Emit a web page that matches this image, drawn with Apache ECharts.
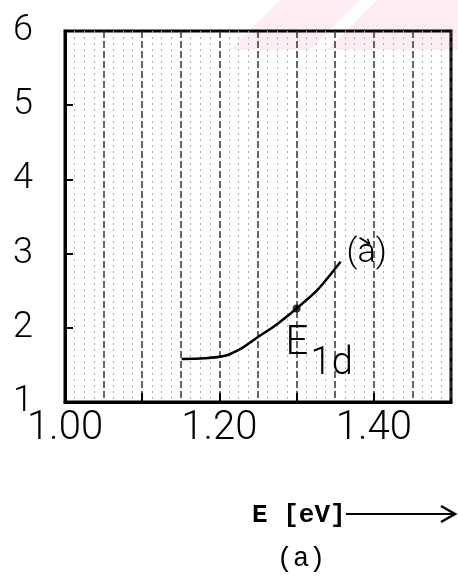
<!DOCTYPE html>
<html>
<head>
<meta charset="utf-8">
<script src="https://cdn.jsdelivr.net/npm/echarts@6/dist/echarts.min.js"></script>
<style>
html,body{margin:0;padding:0;background:#fff;}
#chart{width:458px;height:583px;}
</style>
</head>
<body>
<div id="chart"></div>
<script>
// Data
const energyEV = [1.151, 1.18, 1.206, 1.228, 1.249, 1.271, 1.30, 1.327, 1.357];
const curveA   = [1.58, 1.59, 1.62, 1.72, 1.87, 2.02, 2.26, 2.51, 2.89];
const markE1d  = [1.30, 2.26];
const xTickLabels = [1.00, 1.20, 1.40];
const xTickMarks  = [1.10, 1.20, 1.30, 1.40];
const yTickLabels = [1, 2, 3, 4, 5, 6];
const yTickMarks  = [2, 3, 4, 5];

const THIN = "Roboto,'Liberation Sans',sans-serif";

const chart = echarts.init(document.getElementById('chart'), null, {renderer: 'canvas'});
const option = {
  backgroundColor: '#fff',
  animation: false,
  grid: {left: 65, right: 7, top: 31, bottom: 181, show: true, borderColor: '#000', borderWidth: 3, backgroundColor: 'transparent'},
  xAxis: [
    {
      type: 'value', min: 1.00, max: 1.50, interval: 0.1,
      axisLine: {show: true, lineStyle: {color: '#000', width: 3}},
      axisTick: {show: true, inside: true, length: 9, customValues: xTickMarks, lineStyle: {color: '#000', width: 2}},
      axisLabel: {customValues: xTickLabels, formatter: v => v.toFixed(2), fontFamily: THIN, fontWeight: 300, fontSize: 40, color: '#000', margin: 7},
      splitLine: {show: false},
      z: 10
    },
    {
      // graph-paper rulings
      type: 'value', min: 1.00, max: 1.50, interval: 0.05, position: 'bottom',
      axisLine: {show: false}, axisTick: {show: false}, axisLabel: {show: false},
      splitLine: {show: true, lineStyle: {color: '#333', width: 1.5, type: [7, 3]}},
      minorTick: {show: false, splitNumber: 4},
      minorSplitLine: {show: true, lineStyle: {color: '#b0b0b0', width: 1, type: [2, 4]}}
    }
  ],
  yAxis: {
    type: 'value', min: 1, max: 6, interval: 1,
    axisLine: {show: true, lineStyle: {color: '#000', width: 3}},
    axisTick: {show: true, inside: true, length: 8, customValues: yTickMarks, lineStyle: {color: '#000', width: 2}},
    axisLabel: {customValues: yTickLabels, fontFamily: THIN, fontWeight: 300, fontSize: 36, color: '#000', margin: 32},
    splitLine: {show: false}
  },
  series: [
    {
      type: 'line', data: energyEV.map((x, i) => [x, curveA[i]]),
      smooth: 0.25, showSymbol: false, symbol: 'none',
      lineStyle: {color: '#000', width: 2.5}, z: 5
    },
    {
      type: 'scatter', data: [markE1d], symbolSize: 8,
      itemStyle: {color: '#000'}, z: 6
    }
  ]
};
chart.setOption(option);

const pE = chart.convertToPixel({gridIndex: 0}, markE1d);
const pEnd = chart.convertToPixel({gridIndex: 0}, [energyEV[energyEV.length - 1], curveA[curveA.length - 1]]);
const ax = pEnd[0] + 24, ay = pEnd[1] - 20;

chart.setOption({
  graphic: [
    // faint pink watermark stripes at the top right
    {type: 'polygon', z: -10, silent: true, shape: {points: [[280, 0], [360, 0], [310, 50], [230, 50]]}, style: {fill: '#fdecf0'}},
    {type: 'polygon', z: -10, silent: true, shape: {points: [[377, 0], [458, 0], [458, 50], [327, 50]]}, style: {fill: '#fdecf0'}},
    // E_1d annotation
    {type: 'text', z: 20, x: pE[0] - 11, y: pE[1] + 35, style: {text: 'E', font: '300 40px ' + THIN, fill: '#000', textVerticalAlign: 'middle', textAlign: 'left'}},
    {type: 'text', z: 20, x: pE[0] + 14, y: pE[1] + 56, style: {text: '1d', font: '300 38px ' + THIN, fill: '#000', textVerticalAlign: 'middle', textAlign: 'left'}},
    // (a) curve label with vector arrow over the a
    {type: 'text', z: 20, x: pEnd[0] + 6, y: pEnd[1] - 8, style: {text: '(a)', font: '300 34px ' + THIN, fill: '#000', textVerticalAlign: 'middle', textAlign: 'left'}},
    {type: 'line', z: 20, shape: {x1: ax - 5, y1: ay - 4, x2: ax + 5, y2: ay + 2}, style: {stroke: '#000', lineWidth: 2}},
    {type: 'polyline', z: 20, shape: {points: [[ax - 1, ay + 3], [ax + 5, ay + 2], [ax + 3, ay - 3]]}, style: {stroke: '#000', lineWidth: 1.5, fill: null}},
    // axis name with arrow
    {type: 'text', z: 20, x: 252, y: 515, style: {text: 'E [eV]', font: 'bold 26px "Liberation Mono","DejaVu Sans Mono",monospace', fill: '#000', textVerticalAlign: 'middle', textAlign: 'left'}},
    {type: 'line', z: 20, shape: {x1: 346, y1: 514, x2: 455, y2: 514}, style: {stroke: '#000', lineWidth: 2}},
    {type: 'polyline', z: 20, shape: {points: [[441, 506], [455, 514], [441, 522]]}, style: {stroke: '#000', lineWidth: 2.5, fill: null}},
    // caption
    {type: 'text', z: 20, x: 301, y: 559, style: {text: '(a)', font: '27px "Liberation Mono","DejaVu Sans Mono",monospace', fill: '#000', textVerticalAlign: 'middle', textAlign: 'center'}}
  ]
});
</script>
</body>
</html>
